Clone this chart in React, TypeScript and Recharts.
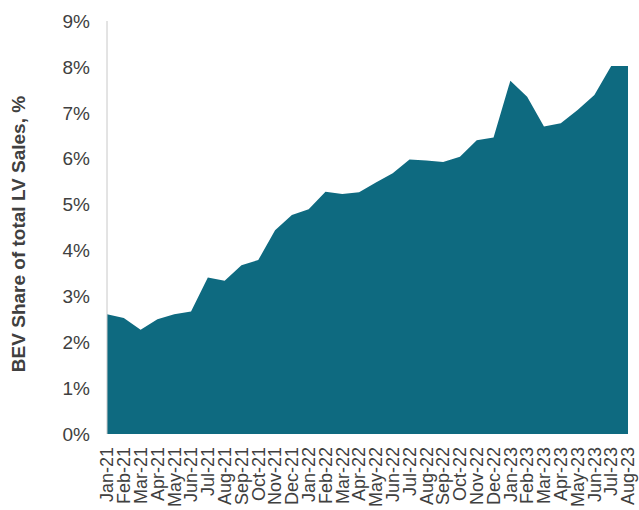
import React from 'react';
import { AreaChart, Area, XAxis, YAxis, Label } from 'recharts';

// monthly BEV share of light-vehicle sales, %
const months = [
  'Jan-21', 'Feb-21', 'Mar-21', 'Apr-21', 'May-21', 'Jun-21', 'Jul-21', 'Aug-21',
  'Sep-21', 'Oct-21', 'Nov-21', 'Dec-21', 'Jan-22', 'Feb-22', 'Mar-22', 'Apr-22',
  'May-22', 'Jun-22', 'Jul-22', 'Aug-22', 'Sep-22', 'Oct-22', 'Nov-22', 'Dec-22',
  'Jan-23', 'Feb-23', 'Mar-23', 'Apr-23', 'May-23', 'Jun-23', 'Jul-23', 'Aug-23',
];

const bevShare = [
  2.61, 2.53, 2.27, 2.5, 2.61, 2.67, 3.41, 3.34,
  3.68, 3.79, 4.44, 4.77, 4.9, 5.28, 5.23, 5.27,
  5.48, 5.68, 5.98, 5.96, 5.93, 6.04, 6.4, 6.46,
  7.7, 7.35, 6.7, 6.77, 7.06, 7.39, 8.02, 8.02,
];

const yTicks = [0, 1, 2, 3, 4, 5, 6, 7, 8, 9];

const data = months.map((month, i) => ({ month, share: bevShare[i] }));

const FONT = '"Liberation Sans", Arial, sans-serif';
const TEXT = '#404040';

const MonthTick = ({ x, y, payload }: any) => (
  <text
    x={x}
    y={y}
    transform={`rotate(-90 ${x} ${y})`}
    textAnchor="end"
    dx={-5}
    dy="0.35em"
    fontSize={18}
    fontFamily={FONT}
    fill={TEXT}
  >
    {payload.value}
  </text>
);

const App = () => {
  return (
    <div style={{ position: 'absolute', left: 0, top: 0 }}>
      <AreaChart
        width={639}
        height={510}
        data={data}
        margin={{ top: 21, right: 11, left: 0, bottom: 0 }}
      >
        <XAxis
          dataKey="month"
          interval={0}
          tickLine={false}
          axisLine={false}
          height={76}
          tick={<MonthTick />}
        />
        <YAxis
          type="number"
          domain={[0, 9]}
          ticks={yTicks}
          width={107}
          tickLine={false}
          tickMargin={11}
          axisLine={{ stroke: '#c8c8c8' }}
          tickFormatter={(v: number) => `${v}%`}
          tick={{ fontSize: 19, fontFamily: FONT, fill: TEXT }}
        >
          <Label
            content={() => (
              <text
                x={18}
                y={234}
                transform="rotate(-90 18 234)"
                textAnchor="middle"
                dominantBaseline="central"
                fontSize={19}
                fontWeight="bold"
                fontFamily={FONT}
                fill={TEXT}
              >
                BEV Share of total LV Sales, %
              </text>
            )}
          />
        </YAxis>
        <Area
          type="linear"
          dataKey="share"
          stroke="none"
          fill="#0e6a80"
          fillOpacity={1}
          isAnimationActive={false}
        />
      </AreaChart>
    </div>
  );
};

export default App;
